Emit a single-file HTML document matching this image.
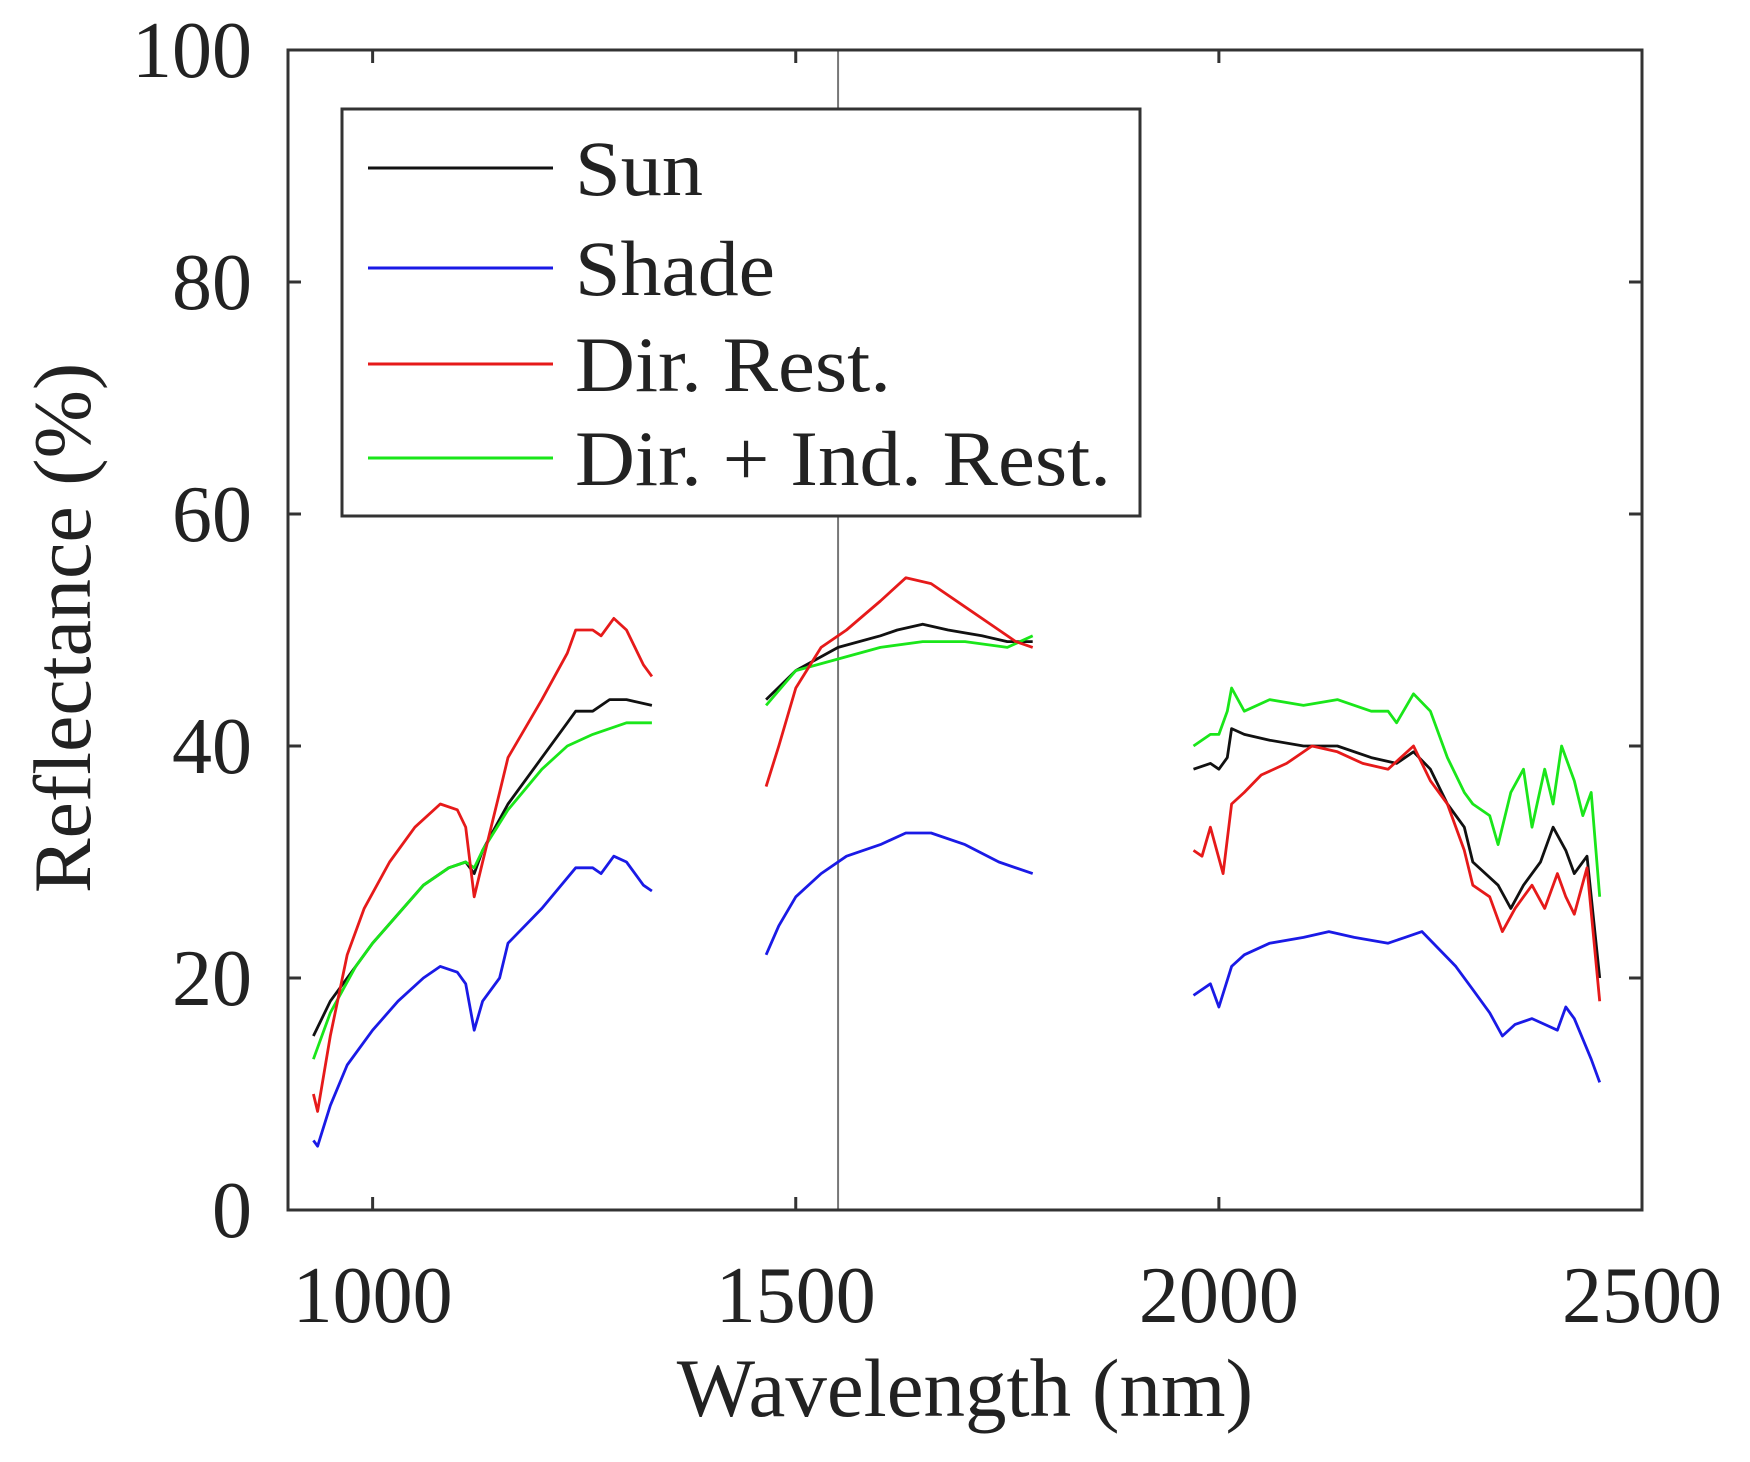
<!DOCTYPE html>
<html><head><meta charset="utf-8"><style>
html,body{margin:0;padding:0;background:#fff;}
svg{display:block;font-family:"Liberation Serif",serif;}
</style></head><body>
<svg id="chart" width="1750" height="1462" viewBox="0 0 1750 1462">
<g id="plot"></g>
</svg>
<script>
const xTicks=[1000,1500,2000,2500];
const yTicks=[0,20,40,60,80,100];
const seriesNames=["Sun","Shade","Dir. Rest.","Dir. + Ind. Rest."];
const seriesColors=["#111","#1a1ae6","#e61a1a","#1ae61a"];
const sunX=[930,950,980,1000,1030,1060,1090,1110,1120,1130,1160,1200,1230,1240,1260,1280,1300,1330,null,1465,1500,1550,1600,1620,1650,1680,1720,1750,1780,null,1970,1990,2000,2010,2015,2030,2060,2100,2140,2180,2210,2230,2250,2270,2290,2300,2330,2345,2360,2380,2395,2410,2420,2435,2450];
const sunY=[15,18,21,23,25.5,28,29.5,30,29,31,35,39,42,43,43,44,44,43.5,null,44,46.5,48.5,49.5,50,50.5,50,49.5,49,49,null,38,38.5,38,39,41.5,41,40.5,40,40,39,38.5,39.5,38,35,33,30,28,26,28,30,33,31,29,30.5,20];
const shadeX=[930,935,950,970,1000,1030,1060,1080,1100,1110,1120,1130,1150,1160,1200,1240,1260,1270,1285,1300,1320,1330,null,1465,1480,1500,1530,1560,1600,1630,1660,1700,1740,1780,null,1970,1990,2000,2015,2030,2060,2100,2130,2160,2200,2220,2240,2260,2280,2300,2320,2335,2350,2370,2385,2400,2410,2420,2440,2450];
const shadeY=[6,5.5,9,12.5,15.5,18,20,21,20.5,19.5,15.5,18,20,23,26,29.5,29.5,29,30.5,30,28,27.5,null,22,24.5,27,29,30.5,31.5,32.5,32.5,31.5,30,29,null,18.5,19.5,17.5,21,22,23,23.5,24,23.5,23,23.5,24,22.5,21,19,17,15,16,16.5,16,15.5,17.5,16.5,13,11];
const dirX=[930,935,950,970,990,1020,1050,1080,1100,1110,1120,1130,1150,1160,1200,1230,1240,1260,1270,1285,1300,1320,1330,null,1465,1480,1500,1530,1560,1600,1630,1660,1700,1740,1760,1780,null,1970,1980,1990,2005,2015,2030,2050,2080,2110,2140,2170,2200,2230,2250,2270,2290,2300,2320,2335,2350,2370,2385,2400,2410,2420,2435,2450];
const dirY=[10,8.5,15,22,26,30,33,35,34.5,33,27,30,36,39,44,48,50,50,49.5,51,50,47,46,null,36.5,40,45,48.5,50,52.5,54.5,54,52,50,49,48.5,null,31,30.5,33,29,35,36,37.5,38.5,40,39.5,38.5,38,40,37,35,31,28,27,24,26,28,26,29,27,25.5,29.5,18];
const indX=[930,950,980,1000,1030,1060,1090,1110,1120,1130,1160,1200,1230,1260,1300,1330,null,1465,1500,1550,1600,1650,1700,1750,1780,null,1970,1990,2000,2010,2015,2030,2060,2100,2140,2180,2200,2210,2230,2250,2270,2290,2300,2320,2330,2345,2360,2370,2385,2395,2405,2420,2430,2440,2450];
const indY=[13,17,21,23,25.5,28,29.5,30,29.5,31,34.5,38,40,41,42,42,null,43.5,46.5,47.5,48.5,49,49,48.5,49.5,null,40,41,41,43,45,43,44,43.5,44,43,43,42,44.5,43,39,36,35,34,31.5,36,38,33,38,35,40,37,34,36,27];

const L=288,R=1642,T=50,B=1210,X0=900,X1=2500,Y0=0,Y1=100;
const sx=v=>L+(v-X0)/(X1-X0)*(R-L);
const sy=v=>B-(v-Y0)/(Y1-Y0)*(B-T);
const NS="http://www.w3.org/2000/svg";
const g=document.getElementById('plot');
function mk(tag,attrs,parent){const e=document.createElementNS(NS,tag);for(const k in attrs)e.setAttribute(k,attrs[k]);(parent||g).appendChild(e);return e;}

let vl=mk('line',{x1:sx(1550),x2:sx(1550),y1:T,y2:B,stroke:'#777','stroke-width':2});



const allX=[sunX,shadeX,dirX,indX],allY=[sunY,shadeY,dirY,indY];
const order=[1,0,3,2];
order.forEach(i=>{
  let d='',pen=false;
  for(let k=0;k<allX[i].length;k++){
    if(allX[i][k]===null){pen=false;continue;}
    d+=(pen?'L':'M')+sx(allX[i][k]).toFixed(1)+' '+sy(allY[i][k]).toFixed(1);pen=true;
  }
  const p=mk('path',{d:d,fill:'none',stroke:seriesColors[i],'stroke-width':2.8,'stroke-linejoin':'round'});
  
  
});

let box=mk('rect',{x:L,y:T,width:R-L,height:B-T,fill:'none',stroke:'#333','stroke-width':3});



xTicks.forEach(v=>{
  const x=sx(v);
  mk('line',{x1:x,x2:x,y1:B,y2:B-13,stroke:'#333','stroke-width':3});
  mk('line',{x1:x,x2:x,y1:T,y2:T+13,stroke:'#333','stroke-width':3});
  const t=mk('text',{x:x,y:1322,'text-anchor':'middle','font-size':80,fill:'#222'});
  t.textContent=v;
  
  
});
yTicks.forEach(v=>{
  const y=sy(v);
  mk('line',{x1:L,x2:L+13,y1:y,y2:y,stroke:'#333','stroke-width':3});
  mk('line',{x1:R,x2:R-13,y1:y,y2:y,stroke:'#333','stroke-width':3});
  const t=mk('text',{x:252,y:y+27,'text-anchor':'end','font-size':80,fill:'#222'});
  t.textContent=v;
  
  
});

let xl=mk('text',{x:965,y:1416,'text-anchor':'middle','font-size':83,fill:'#222'});
xl.textContent='Wavelength (nm)';


let yl=mk('text',{x:0,y:0,'text-anchor':'middle','font-size':82,fill:'#222',transform:'translate(90,628) rotate(-90)'});
yl.textContent='Reflectance (%)';



let lg=mk('g',{});


mk('rect',{x:342,y:109,width:798,height:407,fill:'#fff',stroke:'#333','stroke-width':3},lg);
const ly=[168,268,364,458];
const lw=[128,200,316,536];
seriesNames.forEach((n,i)=>{
  const e=mk('g',{},lg);
  
  
  mk('line',{x1:368,x2:553,y1:ly[i],y2:ly[i],stroke:seriesColors[i],'stroke-width':3},e);
  const t=mk('text',{x:575,y:ly[i]+27,'font-size':78,fill:'#222',textLength:lw[i],lengthAdjust:'spacingAndGlyphs'},e);
  t.textContent=n;
});
</script>
</body></html>
